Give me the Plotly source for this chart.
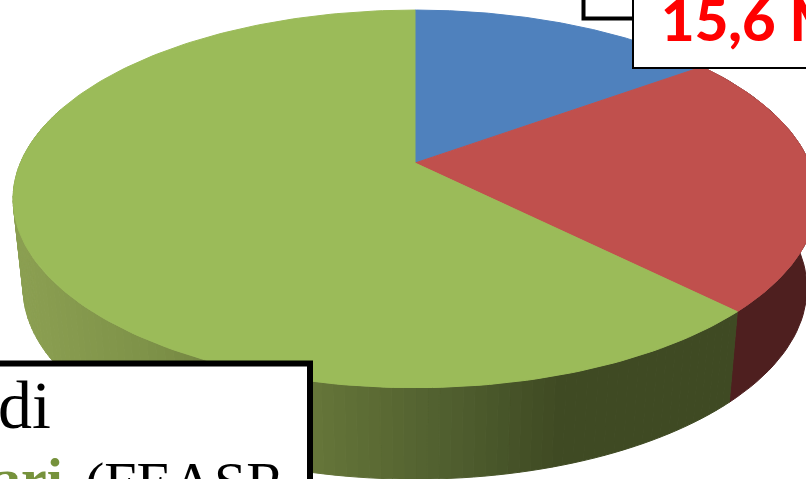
import math
import numpy as np
import plotly.graph_objects as go

# Data
categories = ["Blu", "Rosso", "Verde"]
shares = [15.0, 22.5, 62.5]
top_colors = ["#4f81bd", "#c0504d", "#9bbb59"]
red_side_color = "#4e1f1f"
# side shading of the green wedge: (screen x, colour)
green_side_stops = [(13, (141, 161, 83)), (150, (127, 147, 73)), (320, (101, 117, 57)),
                    (450, (80, 95, 47)), (560, (63, 74, 35)), (806, (63, 74, 35))]
label_red = "15,6 M"
label_di = "di"
label_green = "ari"
label_feasr = "(FEASR"

# Perspective pie geometry (screen pixels used as axis units)
W, H = 806, 479
CX, CY, RX, RY, P = 415.0, 163.0, 394.6, 182.0, 0.19
BCY, BKX, BRY = 252.0, 0.975, 184.0


def project(t):
    """t: clockwise angle from 12 o'clock in radians."""
    X, Y = np.sin(t), np.cos(t)
    w = 1 + P * Y
    return CX + RX * X / w, CY - RY * Y / w


def project_bottom(t):
    X, Y = np.sin(t), np.cos(t)
    w = 1 + P * Y
    return CX + BKX * RX * X / w, BCY - BRY * Y / w


def side_color(x):
    xs = [s[0] for s in green_side_stops]
    return "rgb(%d,%d,%d)" % tuple(
        np.interp(x, xs, [s[1][i] for s in green_side_stops]) for i in range(3))


fig = go.Figure()
total = sum(shares)
edges = np.cumsum([0] + shares) / total * 2 * math.pi


def add_poly(xs, ys, color):
    fig.add_trace(go.Scatter(x=xs, y=ys, mode="lines", fill="toself", fillcolor=color,
                             line=dict(color=color, width=1), hoverinfo="skip", showlegend=False))


# Side walls: red wedge
t = np.linspace(edges[1], edges[2], 50)
x1, y1 = project(t)
x2, y2 = project_bottom(t)
add_poly(np.r_[x1, x2[::-1], x1[0]], np.r_[y1, y2[::-1], y1[0]], red_side_color)

# Side walls: green wedge in shaded strips
ts = np.linspace(edges[2], 2 * math.pi * 0.80, 110)
for a, b in zip(ts[:-1], ts[1:]):
    t = np.array([a, b])
    x1, y1 = project(t)
    x2, y2 = project_bottom(t)
    add_poly(np.r_[x1, x2[::-1], x1[0]], np.r_[y1, y2[::-1], y1[0]], side_color(x2.mean()))

# Top faces
for i in [0, 1, 2]:
    t = np.linspace(edges[i], edges[i + 1], 200)
    x, y = project(t)
    add_poly(np.r_[CX, x, CX], np.r_[CY, y, CY], top_colors[i])

shapes = [
    dict(type="rect", x0=583.5, x1=830, y0=-20, y1=18.5, fillcolor="white",
         line=dict(color="black", width=4)),
    dict(type="rect", x0=633, x1=830, y0=-20, y1=68, fillcolor="white",
         line=dict(color="black", width=2)),
    dict(type="rect", x0=-20, x1=310, y0=363.5, y1=520, fillcolor="white",
         line=dict(color="black", width=6)),
]


def label(px, py, text, xanchor, yanchor, family, size, color, weight=None):
    font = dict(family=family, size=size, color=color)
    if weight:
        font["weight"] = weight
    return dict(xref="paper", yref="paper", x=px / W, y=1 - py / H, text=text, xanchor=xanchor,
                yanchor=yanchor, showarrow=False, borderpad=0, font=font)


anns = [
    label(660, 18, label_red, "left", "middle", "Lato", 58, "#ff0000", 900),
    label(52, 405, label_di, "right", "middle", "Liberation Serif", 68, "black"),
    label(64, 445, "<b>%s</b>" % label_green, "right", "top", "Liberation Serif", 58, "#76923c"),
    label(84, 449, label_feasr, "left", "top", "Liberation Serif", 58, "black"),
]
fig.update_layout(
    width=W, height=H, margin=dict(l=0, r=0, t=0, b=0), autosize=False,
    paper_bgcolor="white", plot_bgcolor="white", showlegend=False,
    xaxis=dict(range=[0, W], visible=False, fixedrange=True),
    yaxis=dict(range=[H, 0], visible=False, fixedrange=True),
    shapes=shapes, annotations=anns,
)
fig.write_html("out.html", config={"displayModeBar": False},
               post_script="document.body.style.margin='0';document.body.style.overflow='hidden';")
